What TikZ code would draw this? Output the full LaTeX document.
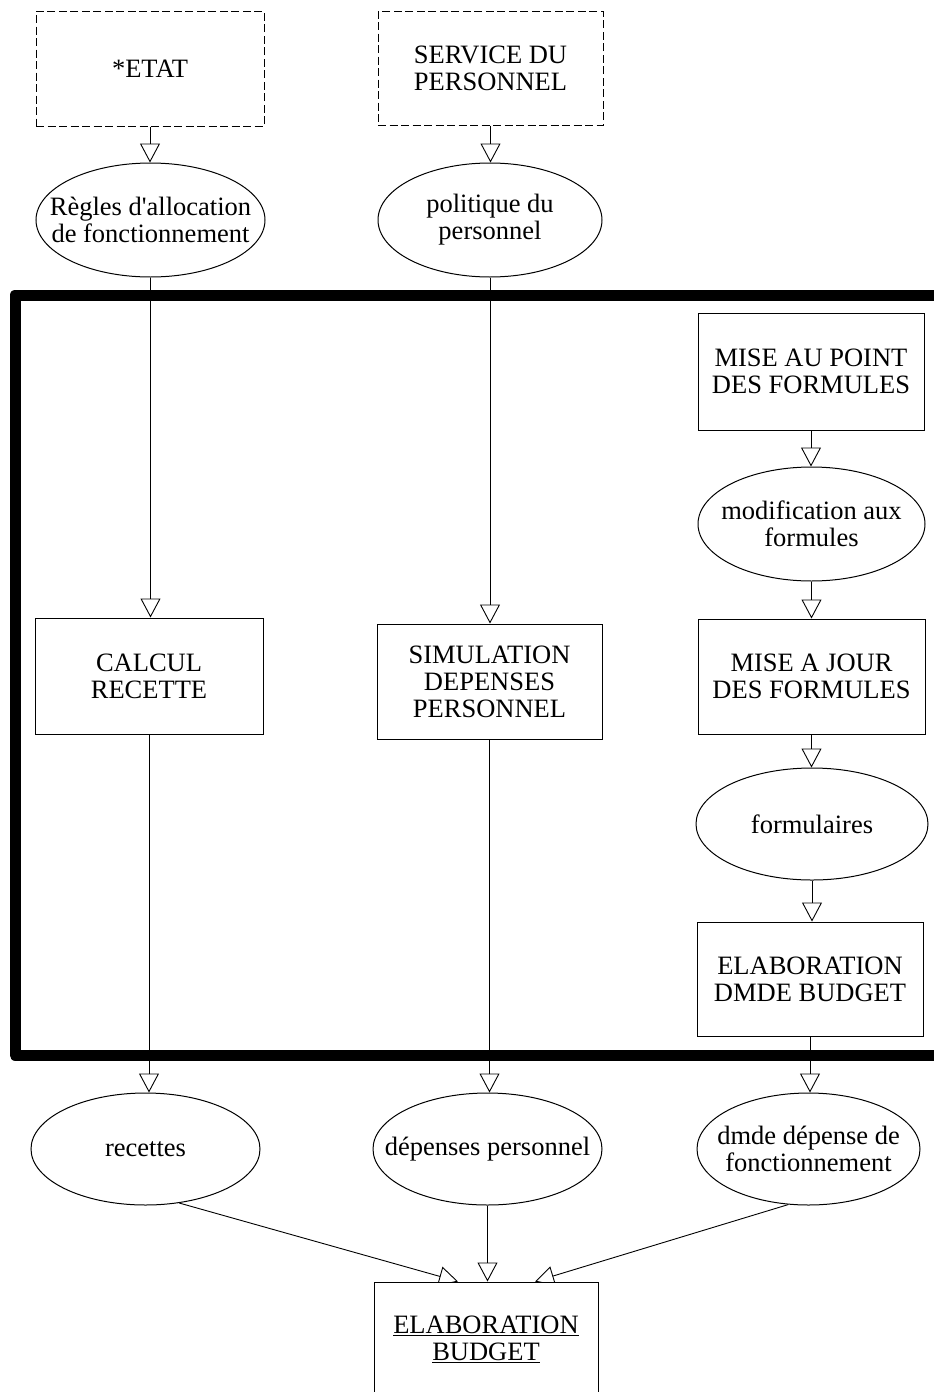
\documentclass[tikz,border=0pt]{standalone}
\usepackage{fontspec}
\setmainfont{Liberation Serif}
\usetikzlibrary{arrows.meta,shapes.geometric,backgrounds}
\begin{document}
\begin{tikzpicture}[x=1pt,y=-1pt,
  txt/.style={font=\fontsize{26.5}{27}\selectfont, align=center, inner sep=0pt},
  box/.style={draw, line width=1pt, rectangle, inner sep=0pt, font=\fontsize{26.5}{27}\selectfont, align=center},
  extbox/.style={box, dash pattern=on 8pt off 3.5pt},
  ell/.style={draw, line width=1pt, ellipse, inner sep=0pt},
  arr/.style={line width=0.9pt, -{Triangle[open,length=19pt,width=20pt]}},
  frameline/.style={line width=11pt, line join=round}]
\begin{scope}[on background layer]
  \fill[white] (0,0) rectangle (934,1392);
\end{scope}
\clip (0,0) rectangle (934,1392);
\useasboundingbox (0,0) rectangle (934,1392);

% thick frame
\draw[frameline] (960,295) -- (15,295) -- (15,1055) -- (960,1055);

% external entities
\node[extbox, minimum width=228, minimum height=115] (etat) at (150,68.5) {*ETAT};
\node[extbox, minimum width=225, minimum height=114] (service) at (490.5,68) {SERVICE DU\\PERSONNEL};

% data ellipses (top)
\node[ell, minimum width=229, minimum height=114] (regles) at (150.5,220) {};
\node[txt] at (regles) {Règles d\textquotesingle allocation\\de fonctionnement};
\node[ell, minimum width=224, minimum height=114] (politique) at (490,220) {};
\node[txt] at (politique) {politique du\\personnel};

% processes
\node[box, minimum width=226, minimum height=117] (miseaupoint) at (811,371.5) {MISE AU POINT\\DES FORMULES};
\node[ell, minimum width=227, minimum height=114] (modif) at (811.5,524) {};
\node[txt] at (modif) {modification aux\\formules};
\node[box, minimum width=227, minimum height=115] (misajour) at (811.5,676.5) {MISE A JOUR\\DES FORMULES};
\node[ell, minimum width=232, minimum height=112] (formulaires) at (812,824) {};
\node[txt] at (formulaires) {formulaires};
\node[box, minimum width=226, minimum height=114] (elabdmde) at (810,979) {ELABORATION\\DMDE BUDGET};

\node[box, minimum width=228, minimum height=116] (calcul) at (149,676) {CALCUL\\RECETTE};
\node[box, minimum width=225, minimum height=115] (simulation) at (489.5,681.5) {SIMULATION\\DEPENSES\\PERSONNEL};

% bottom ellipses
\node[ell, minimum width=229, minimum height=112] (recettes) at (145.5,1149) {};
\node[txt] at (recettes) {recettes};
\node[ell, minimum width=229, minimum height=112] (depenses) at (487.5,1149) {};
\node[txt] at (depenses) {dépenses personnel};
\node[ell, minimum width=223, minimum height=112] (dmde) at (808.5,1149) {};
\node[txt] at (dmde) {dmde dépense de\\fonctionnement};

% final process
\node[box, fill=white, minimum width=224, minimum height=115] (budget) at (486,1339.5) {\underline{ELABORATION}\\\underline{BUDGET}};

% connectors
\draw[arr] (etat.south) -- (etat.south |- regles.north);
\draw[arr] (service.south) -- (service.south |- politique.north);
\draw[arr] (regles.south) -- (regles.south |- calcul.north);
\draw[arr] (politique.south) -- (politique.south |- simulation.north);
\draw[arr] (miseaupoint.south) -- (miseaupoint.south |- modif.north);
\draw[arr] (modif.south) -- (modif.south |- misajour.north);
\draw[arr] (misajour.south) -- (misajour.south |- formulaires.north);
\draw[arr] (formulaires.south) -- (formulaires.south |- elabdmde.north);
\draw[arr] (calcul.south) -- (calcul.south |- recettes.north);
\draw[arr] (simulation.south) -- (simulation.south |- depenses.north);
\draw[arr] (elabdmde.south) -- (elabdmde.south |- dmde.north);
\draw[arr] (depenses.south) -- (depenses.south |- budget.north);
\coordinate (tipL) at ([xshift=-28pt]budget.north);
\coordinate (tipR) at ([xshift=49pt]budget.north);
\begin{scope}[on background layer]
  \draw[arr] (recettes.-58) -- (tipL);
  \draw[arr] (dmde.-110) -- (tipR);
\end{scope}
\end{tikzpicture}
\end{document}
